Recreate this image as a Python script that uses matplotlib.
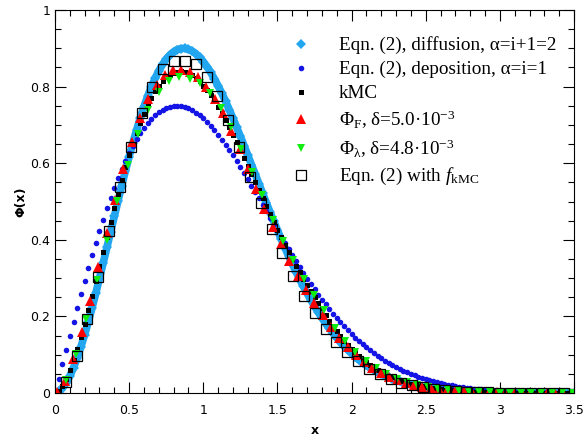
import numpy as np
import matplotlib
matplotlib.use("Agg")
import matplotlib.pyplot as plt
from matplotlib.ticker import MultipleLocator, FuncFormatter

plt.rcParams['mathtext.fontset'] = 'custom'
plt.rcParams['mathtext.rm'] = 'Liberation Serif'
plt.rcParams['mathtext.it'] = 'Liberation Serif:italic'

# Eqn. (2), diffusion (x = 0, 0.025, ..., 3.5)
diffusion = [
    0.0, 0.0035, 0.0125, 0.0263, 0.0444, 0.0664, 0.0920, 0.1208, 0.1524, 0.1865,
    0.2226, 0.2604, 0.2996, 0.3397, 0.3803, 0.4212, 0.4620, 0.5023, 0.5418, 0.5803,
    0.6175, 0.6530, 0.6868, 0.7185, 0.7480, 0.7752, 0.7998, 0.8218, 0.8412, 0.8579,
    0.8717, 0.8828, 0.8911, 0.8967, 0.8995, 0.8998, 0.8975, 0.8928, 0.8858, 0.8765,
    0.8652, 0.8519, 0.8369, 0.8202, 0.8020, 0.7825, 0.7618, 0.7400, 0.7174, 0.6940,
    0.6701, 0.6457, 0.6210, 0.5960, 0.5710, 0.5461, 0.5212, 0.4966, 0.4723, 0.4484,
    0.4249, 0.4021, 0.3797, 0.3581, 0.3371, 0.3168, 0.2972, 0.2784, 0.2604, 0.2431,
    0.2266, 0.2110, 0.1961, 0.1820, 0.1686, 0.1560, 0.1441, 0.1329, 0.1224, 0.1126,
    0.1034, 0.0948, 0.0868, 0.0794, 0.0725, 0.0661, 0.0602, 0.0547, 0.0497, 0.0451,
    0.0408, 0.0369, 0.0333, 0.0301, 0.0271, 0.0243, 0.0219, 0.0196, 0.0176, 0.0157,
    0.0140, 0.0125, 0.0112, 0.0099, 0.0088, 0.0078, 0.0069, 0.0062, 0.0054, 0.0048,
    0.0042, 0.0037, 0.0033, 0.0029, 0.0026, 0.0023, 0.0020, 0.0018, 0.0015, 0.0013,
    0.0011, 0.0010, 0.0009, 0.0008, 0.0007, 0.0006, 0.0005, 0.0004, 0.0004, 0.0003,
    0.0003, 0.0002, 0.0002, 0.0002, 0.0001, 0.0001, 0.0001, 0.0001, 0.0001, 0.0001,
    0.0]

# Eqn. (2), deposition (same x grid)
deposition = [
    0.0, 0.0377, 0.0753, 0.1126, 0.1497, 0.1863, 0.2224, 0.2579, 0.2927, 0.3267,
    0.3599, 0.3920, 0.4231, 0.4530, 0.4818, 0.5093, 0.5355, 0.5603, 0.5837, 0.6056,
    0.6260, 0.6449, 0.6623, 0.6781, 0.6923, 0.7049, 0.7159, 0.7253, 0.7332, 0.7395,
    0.7444, 0.7477, 0.7495, 0.7500, 0.7490, 0.7467, 0.7431, 0.7383, 0.7323, 0.7251,
    0.7169, 0.7077, 0.6975, 0.6864, 0.6746, 0.6619, 0.6486, 0.6347, 0.6202, 0.6052,
    0.5898, 0.5740, 0.5579, 0.5416, 0.5250, 0.5083, 0.4915, 0.4747, 0.4579, 0.4412,
    0.4245, 0.4080, 0.3916, 0.3755, 0.3596, 0.3439, 0.3286, 0.3135, 0.2989, 0.2845,
    0.2706, 0.2571, 0.2439, 0.2312, 0.2189, 0.2070, 0.1955, 0.1845, 0.1739, 0.1638,
    0.1540, 0.1447, 0.1358, 0.1273, 0.1192, 0.1115, 0.1042, 0.0973, 0.0907, 0.0845,
    0.0786, 0.0731, 0.0679, 0.0630, 0.0584, 0.0540, 0.0499, 0.0461, 0.0426, 0.0392,
    0.0361, 0.0332, 0.0305, 0.0280, 0.0257, 0.0236, 0.0216, 0.0197, 0.0180, 0.0164,
    0.0150, 0.0136, 0.0124, 0.0113, 0.0102, 0.0093, 0.0084, 0.0076, 0.0069, 0.0062,
    0.0056, 0.0050, 0.0045, 0.0041, 0.0037, 0.0033, 0.0030, 0.0027, 0.0024, 0.0021,
    0.0019, 0.0017, 0.0015, 0.0013, 0.0012, 0.0010, 0.0009, 0.0008, 0.0007, 0.0006,
    0.0005]

# kMC (same x grid)
kmc = [
    0.0, 0.0057, 0.0185, 0.0366, 0.0591, 0.0853, 0.1146, 0.1466, 0.1808, 0.2167,
    0.2539, 0.2920, 0.3306, 0.3694, 0.4081, 0.4463, 0.4837, 0.5202, 0.5554, 0.5891,
    0.6211, 0.6514, 0.6796, 0.7057, 0.7297, 0.7513, 0.7706, 0.7876, 0.8021, 0.8143,
    0.8240, 0.8314, 0.8365, 0.8393, 0.8400, 0.8385, 0.8350, 0.8296, 0.8224, 0.8134,
    0.8029, 0.7909, 0.7774, 0.7628, 0.7470, 0.7302, 0.7124, 0.6939, 0.6747, 0.6550,
    0.6348, 0.6142, 0.5934, 0.5724, 0.5512, 0.5301, 0.5091, 0.4881, 0.4674, 0.4469,
    0.4268, 0.4070, 0.3876, 0.3686, 0.3501, 0.3322, 0.3147, 0.2978, 0.2815, 0.2657,
    0.2505, 0.2359, 0.2219, 0.2038, 0.1888, 0.1747, 0.1614, 0.1488, 0.1371, 0.1261,
    0.1158, 0.1062, 0.0972, 0.0889, 0.0812, 0.0740, 0.0674, 0.0613, 0.0557, 0.0505,
    0.0457, 0.0413, 0.0373, 0.0337, 0.0304, 0.0272, 0.0245, 0.0220, 0.0197, 0.0176,
    0.0157, 0.0140, 0.0125, 0.0111, 0.0099, 0.0087, 0.0077, 0.0069, 0.0060, 0.0054,
    0.0047, 0.0041, 0.0037, 0.0032, 0.0029, 0.0026, 0.0022, 0.0020, 0.0017, 0.0015,
    0.0012, 0.0011, 0.0010, 0.0009, 0.0008, 0.0007, 0.0006, 0.0005, 0.0004, 0.0003,
    0.0003, 0.0002, 0.0002, 0.0002, 0.0001, 0.0001, 0.0001, 0.0001, 0.0001, 0.0001,
    0.0]

# Phi_F, delta = 5.0e-3 (x = 0.0125, 0.0685, ...)
phi_f = [
    0.0018, 0.0326, 0.0878, 0.1593, 0.2414, 0.3291, 0.4180, 0.5041, 0.5844, 0.6562,
    0.7177, 0.7676, 0.8052, 0.8302, 0.8430, 0.8441, 0.8380, 0.8250, 0.8000, 0.7680,
    0.7300, 0.6850, 0.6360, 0.5850, 0.5330, 0.4801, 0.4333, 0.3883, 0.3456, 0.3056,
    0.2685, 0.2344, 0.2034, 0.1731, 0.1449, 0.1204, 0.0993, 0.0814, 0.0662, 0.0534,
    0.0428, 0.0341, 0.0270, 0.0212, 0.0165, 0.0128, 0.0099, 0.0075, 0.0057, 0.0044,
    0.0033, 0.0025, 0.0019, 0.0014, 0.0010, 0.0008, 0.0006, 0.0004, 0.0003, 0.0002,
    0.0001, 0.0001, 0.0001]

# Phi_lambda, delta = 4.8e-3 (x = 0.0727, 0.1424, ...)
phi_lam = [
    0.0338, 0.1025, 0.1927, 0.2945, 0.4000, 0.5020, 0.5952, 0.6752, 0.7392, 0.7856,
    0.8140, 0.8248, 0.8194, 0.8100, 0.7830, 0.7450, 0.6950, 0.6380, 0.5780, 0.5170,
    0.4525, 0.3979, 0.3463, 0.2984, 0.2548, 0.2155, 0.1695, 0.1351, 0.1064, 0.0831,
    0.0641, 0.0489, 0.0368, 0.0275, 0.0204, 0.0149, 0.0108, 0.0077, 0.0055, 0.0038,
    0.0028, 0.0019, 0.0012, 0.0009, 0.0006, 0.0004, 0.0002, 0.0001, 0.0001, 0.0]

# Eqn. (2) with f_kMC (x = 0.073, 0.146, ...)
eqn_fkmc = [
    0.0288, 0.0971, 0.1924, 0.3041, 0.4220, 0.5374, 0.6423, 0.7310, 0.7992, 0.8448,
    0.8672, 0.8675, 0.8580, 0.8250, 0.7760, 0.7120, 0.6420, 0.5647, 0.4952, 0.4278,
    0.3644, 0.3062, 0.2538, 0.2077, 0.1679, 0.1341, 0.1058, 0.0825, 0.0636, 0.0485,
    0.0366, 0.0273, 0.0201, 0.0147, 0.0106, 0.0076, 0.0054, 0.0038, 0.0026, 0.0018,
    0.0012, 0.0008, 0.0005, 0.0003, 0.0002, 0.0001, 0.0001]

x_dense = np.arange(len(diffusion)) * 0.025
x_phi_f = 0.0125 + 0.056 * np.arange(len(phi_f))
x_phi_lam = 0.003 + 0.0697 * np.arange(1, len(phi_lam) + 1)
x_fkmc = 0.073 * np.arange(1, len(eqn_fkmc) + 1)

cyan = '#22A6F0'

fig = plt.figure(figsize=(5.87, 4.38), dpi=100)
ax = fig.add_axes([0.0937, 0.1027, 0.8842, 0.8744])

# dense diamonds drawn as a band
ax.plot(x_dense, diffusion, '-', color=cyan, lw=5.5, solid_capstyle='round',
        label='_nolegend_')
ax.plot(x_dense, diffusion, 'D', color=cyan, ms=4.8, mew=0,
        label='Eqn. (2), diffusion, α=i+1=2')
ax.plot(x_dense, deposition, 'o', color='#1414E6', ms=4.0, mew=0,
        label='Eqn. (2), deposition, α=i=1')
ax.plot(x_dense, kmc, 's', color='black', ms=3.6, mew=0, label='kMC')
ax.plot(x_phi_f, phi_f, '^', color='#FF0000', ms=6.5, mew=0,
        label='Φ$_\\mathrm{F}$, δ=5.0·10$^{-3}$')
ax.plot(x_phi_lam, phi_lam, 'v', color='#10EE10', ms=5.5, mew=0,
        label='Φ$_\\mathrm{λ}$, δ=4.8·10$^{-3}$')
ax.plot(x_fkmc, eqn_fkmc, 's', mfc='none', mec='black', ms=7, mew=0.9,
        label='Eqn. (2) with $f_\\mathrm{kMC}$')

ax.set_xlim(0, 3.5)
ax.set_ylim(0, 1)
ax.xaxis.set_major_locator(MultipleLocator(0.5))
ax.xaxis.set_minor_locator(MultipleLocator(0.1))
ax.yaxis.set_major_locator(MultipleLocator(0.2))
ax.yaxis.set_minor_locator(MultipleLocator(0.05))
fmt = FuncFormatter(lambda v, p: '%g' % round(v, 3))
ax.xaxis.set_major_formatter(fmt)
ax.yaxis.set_major_formatter(fmt)

ax.tick_params(which='both', direction='in', top=True, right=True,
               width=0.8, labelsize=9)
ax.tick_params(which='major', length=8)
ax.tick_params(which='minor', length=4.5)
ax.tick_params(axis='x', pad=8)
ax.tick_params(axis='y', pad=3.5)
for s in ax.spines.values():
    s.set_linewidth(0.8)

ax.set_xlabel('x', fontweight='bold', fontsize=9, labelpad=5)
ax.set_ylabel('Φ(x)', fontweight='bold', fontsize=9, labelpad=2)

ax.legend(loc='upper left', bbox_to_anchor=(0.455, 0.931), frameon=False,
          prop={'family': 'Liberation Serif', 'size': 13.8},
          handlelength=1.0, handletextpad=1.5, labelspacing=0.34,
          borderpad=0, borderaxespad=0)

fig.savefig('out.png', dpi=100)
